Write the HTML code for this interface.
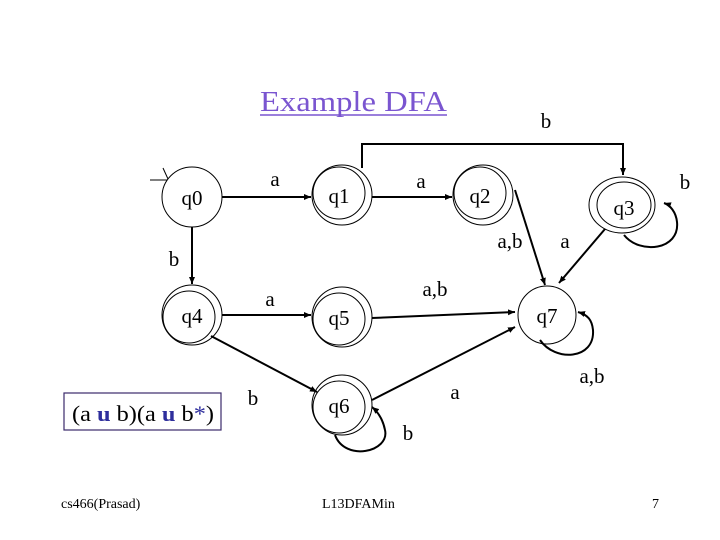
<!DOCTYPE html>
<html><head><style>
body{margin:0;background:#fff;width:720px;height:540px;overflow:hidden}
svg{display:block}
text{font-family:"Liberation Serif",serif;fill:#000}
</style></head><body>
<svg width="720" height="540" viewBox="0 0 720 540" xmlns="http://www.w3.org/2000/svg">
<defs>
<marker id="ar" markerWidth="8" markerHeight="8" refX="7" refY="4" orient="auto" markerUnits="userSpaceOnUse">
<path d="M0,1 L7,4 L0,7 z" fill="#000"/></marker>
</defs>
<text x="260" y="111" font-size="29" textLength="187" lengthAdjust="spacingAndGlyphs" style="fill:#7a55d0">Example DFA</text>
<line x1="260" y1="115" x2="447" y2="115" stroke="#7a55d0" stroke-width="1.5"/>

<g fill="none" stroke="#000" stroke-width="1">
<circle cx="192" cy="197" r="30"/>
<circle cx="342" cy="195" r="30"/><circle cx="339" cy="193" r="26"/>
<circle cx="483" cy="195" r="30"/><circle cx="480" cy="193" r="26"/>
<ellipse cx="622" cy="205" rx="33" ry="28"/><ellipse cx="624" cy="205" rx="27" ry="23"/>
<circle cx="192" cy="315" r="30"/><circle cx="189" cy="317" r="26"/>
<circle cx="342" cy="317" r="30"/><circle cx="339" cy="319" r="26"/>
<circle cx="342" cy="405" r="30"/><circle cx="339" cy="407" r="26"/>
<circle cx="547" cy="315" r="29"/>
<rect x="64" y="393" width="157" height="37" stroke="#3b2a6b" stroke-width="1.2"/>
<line x1="150" y1="180" x2="167" y2="180"/><line x1="163" y1="168" x2="168" y2="179"/>
</g>

<g fill="none" stroke="#000" stroke-width="2">
<line x1="222" y1="197" x2="311" y2="197" marker-end="url(#ar)"/>
<line x1="372" y1="197" x2="452" y2="197" marker-end="url(#ar)"/>
<polyline points="362,168 362,144 623,144 623,175" marker-end="url(#ar)"/>
<line x1="192" y1="227" x2="192" y2="284" marker-end="url(#ar)"/>
<line x1="222" y1="315" x2="311" y2="315" marker-end="url(#ar)"/>
<line x1="372" y1="318" x2="515" y2="312" marker-end="url(#ar)"/>
<line x1="211" y1="336" x2="317" y2="392" marker-end="url(#ar)"/>
<line x1="372" y1="400" x2="515" y2="327" marker-end="url(#ar)"/>
<line x1="515" y1="190" x2="545" y2="285" marker-end="url(#ar)"/>
<line x1="605" y1="229" x2="559" y2="283" marker-end="url(#ar)"/>
<path d="M624,235 C640,255 680,250 677,222 C676,212 670,205 664,203" marker-end="url(#ar)"/>
<path d="M540,340 C555,362 595,360 593,330 C592,320 588,315 578,312" marker-end="url(#ar)"/>
<path d="M335,435 C345,462 390,452 385,430 C383,420 378,412 372,407" marker-end="url(#ar)"/>
</g>

<g font-size="21" text-anchor="middle">
<text x="192" y="205">q0</text>
<text x="339" y="203">q1</text>
<text x="480" y="203">q2</text>
<text x="624" y="215">q3</text>
<text x="192" y="323">q4</text>
<text x="339" y="325">q5</text>
<text x="339" y="413">q6</text>
<text x="547" y="323">q7</text>
<text x="275" y="186">a</text>
<text x="421" y="188">a</text>
<text x="546" y="128">b</text>
<text x="685" y="189">b</text>
<text x="174" y="266">b</text>
<text x="270" y="306">a</text>
<text x="435" y="296">a,b</text>
<text x="510" y="248">a,b</text>
<text x="565" y="248">a</text>
<text x="253" y="405">b</text>
<text x="455" y="399">a</text>
<text x="408" y="440">b</text>
<text x="592" y="383">a,b</text>
</g>
<text x="72" y="421" font-size="22" textLength="142" lengthAdjust="spacingAndGlyphs">(a <tspan style="fill:#2e2e9c;font-weight:bold">u</tspan> b)(a <tspan style="fill:#2e2e9c;font-weight:bold">u</tspan> b<tspan style="fill:#2e2e9c">*</tspan>)</text>
<text x="61" y="508" font-size="14">cs466(Prasad)</text>
<text x="322" y="508" font-size="14">L13DFAMin</text>
<text x="652" y="508" font-size="14">7</text>
</svg>
</body></html>
